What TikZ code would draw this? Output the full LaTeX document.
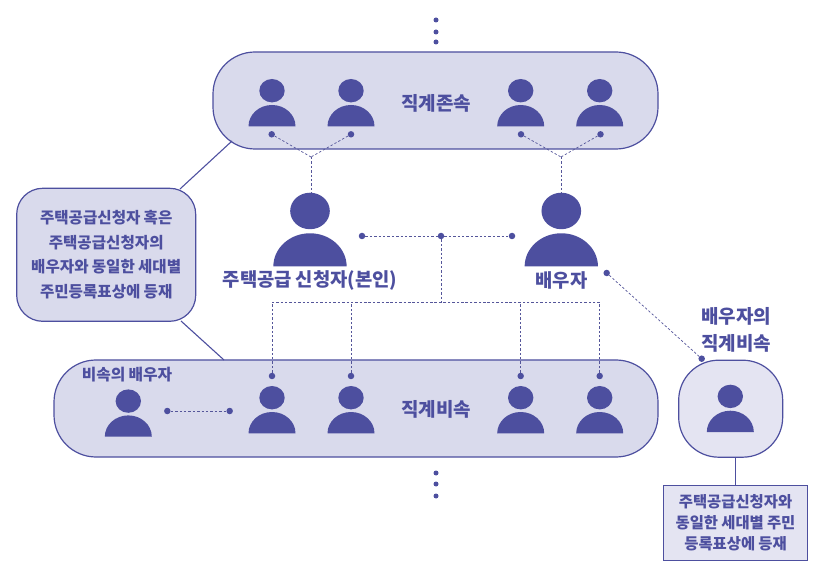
\documentclass[tikz,border=0pt]{standalone}
\usepackage{fontspec}
\newfontfamily\krfont{Noto Sans CJK KR}[WordSpace=0.9]
\usetikzlibrary{arrows.meta,positioning}
\definecolor{inkblue}{HTML}{4D4F9F}
\definecolor{palefill}{HTML}{D9DAEC}
\definecolor{lightfill}{HTML}{E4E4F2}

\begin{document}
\begin{tikzpicture}[x=1pt,y=-1pt]
\tikzset{
  groupbox/.style={draw=inkblue,fill=palefill,line width=1.2pt,inner sep=0pt},
  notebox/.style={groupbox,align=center,text=inkblue,font=\krfont\bfseries\fontsize{15.6}{24.5}\selectfont},
  dotnode/.style={circle,fill=inkblue,minimum size=6.5pt,inner sep=0pt},
  smalldot/.style={circle,fill=inkblue,minimum size=5pt,inner sep=0pt},
  kinlabel/.style={text=inkblue,inner sep=0pt,align=center,font=\krfont\bfseries\fontsize{19}{27}\selectfont},
  tielink/.style={draw=inkblue!85!gray,line width=0.7pt,dash pattern=on 2.4pt off 2pt},
  solidlink/.style={draw=inkblue,line width=1.1pt},
  person/.pic={
    \fill[inkblue] (0pt,35.6pt) circle[x radius=12.7pt,y radius=11.7pt];
    \fill[inkblue] (-23.5pt,0pt) arc[start angle=180,end angle=0,x radius=23.5pt,y radius=21.3pt] -- cycle;
  }
}
\useasboundingbox (0,0) rectangle (825,577);
% group boxes
\node[groupbox,rounded corners=42pt,minimum width=445pt,minimum height=97pt] (n_upper) at (435.5,100.5) {};
\node[groupbox,rounded corners=42pt,minimum width=604pt,minimum height=97pt] (n_lower) at (356,408.5) {};
\node[groupbox,fill=lightfill,rounded corners=40pt,minimum width=104pt,minimum height=97pt] (n_outer) at (730.7,408.7) {};
\node[notebox,rounded corners=26pt,minimum width=179pt,minimum height=133pt] (n_note) at (106.2,254.8) {주택공급신청자 혹은\\주택공급신청자의\\배우자와 동일한 세대별\\주민등록표상에 등재};
\node[notebox,fill=lightfill,minimum width=144pt,minimum height=75pt,font=\krfont\bfseries\fontsize{15.4}{21}\selectfont] (n_rule) at (735.5,523) {주택공급신청자와\\동일한 세대별 주민\\등록표상에 등재};
% people
\pic at (272,126.3) {person};
\pic at (351,126.3) {person};
\pic at (520.7,126.3) {person};
\pic at (599.7,126.3) {person};
\pic[scale=1.56] at (310,266.5) {person};
\pic[scale=1.56] at (561.3,266.5) {person};
\pic at (128.3,436.7) {person};
\pic at (272,433.3) {person};
\pic at (351,433.3) {person};
\pic at (520.7,433.3) {person};
\pic at (599.7,433.3) {person};
\pic at (730.3,432) {person};
% labels
\node[kinlabel] (n_asc) at (436,103) {직계존속};
\node[kinlabel] (n_desc) at (436,409) {직계비속};
\node[kinlabel,font=\krfont\bfseries\fontsize{18.8}{27}\selectfont] (n_self) at (310,280) {주택공급 신청자(본인)};
\node[kinlabel,font=\krfont\bfseries\fontsize{18.8}{27}\selectfont] (n_spouse) at (561.5,280) {배우자};
\node[kinlabel] (n_outerlabel) at (736,330) {배우자의\\직계비속};
\node[kinlabel,font=\krfont\bfseries\fontsize{15.8}{20}\selectfont] (n_dspouse) at (127,375) {비속의 배우자};
% dots
\node[smalldot] (n_t0) at (436,20) {};
\node[smalldot] (n_t1) at (436,32) {};
\node[smalldot] (n_t2) at (436,42) {};
\node[smalldot] (n_b0) at (436,473) {};
\node[smalldot] (n_b1) at (436,484) {};
\node[smalldot] (n_b2) at (436,496) {};
\node[dotnode] (n_A0) at (271.7,134.3) {};
\node[dotnode] (n_A1) at (351,134.3) {};
\node[dotnode] (n_A2) at (521,134.3) {};
\node[dotnode] (n_A3) at (600.5,134.3) {};
\node[dotnode] (n_S0) at (362,236) {};
\node[dotnode] (n_S1) at (441,236) {};
\node[dotnode] (n_S2) at (512,236) {};
\node[dotnode] (n_D0) at (272,376) {};
\node[dotnode] (n_D1) at (351,376) {};
\node[dotnode] (n_D2) at (520.7,376) {};
\node[dotnode] (n_D3) at (599.7,376) {};
\node[dotnode] (n_E0) at (167.3,411) {};
\node[dotnode] (n_E1) at (229.7,411) {};
\node[dotnode] (n_O0) at (606.7,273) {};
\node[dotnode] (n_O1) at (701.7,358.7) {};
% free ends
\coordinate (c_left) at (311,157);
\coordinate (c_right) at (561,157);
\coordinate (c_selfhead) at (311,193);
\coordinate (c_spousehead) at (561,193);
\coordinate (c_bar) at (441,302);
\coordinate (c_ascnote) at (232,141);
\coordinate (c_notetop) at (180,189);
\coordinate (c_notebot) at (181,321);
\coordinate (c_descnote) at (224,360);
% connectors
\draw[tielink] (n_A0) -- (c_left);
\draw[tielink] (n_A1) -- (c_left);
\draw[tielink] (c_left) -- (c_selfhead);
\draw[tielink] (n_A2) -- (c_right);
\draw[tielink] (n_A3) -- (c_right);
\draw[tielink] (c_right) -- (c_spousehead);
\draw[tielink] (n_S0) -- (n_S1);
\draw[tielink] (n_S1) -- (n_S2);
\draw[tielink] (n_S1) -- (c_bar);
\draw[tielink] (n_D0) |- (c_bar);
\draw[tielink] (n_D1) |- (c_bar);
\draw[tielink] (n_D2) |- (c_bar);
\draw[tielink] (n_D3) |- (c_bar);
\draw[tielink] (n_E0) -- (n_E1);
\draw[tielink] (n_O0) -- (n_O1);
\draw[solidlink] (c_ascnote) -- (c_notetop);
\draw[solidlink] (c_notebot) -- (c_descnote);
\draw[solidlink] (n_outer.south -| n_rule.north) -- (n_rule.north);
\end{tikzpicture}
\end{document}
